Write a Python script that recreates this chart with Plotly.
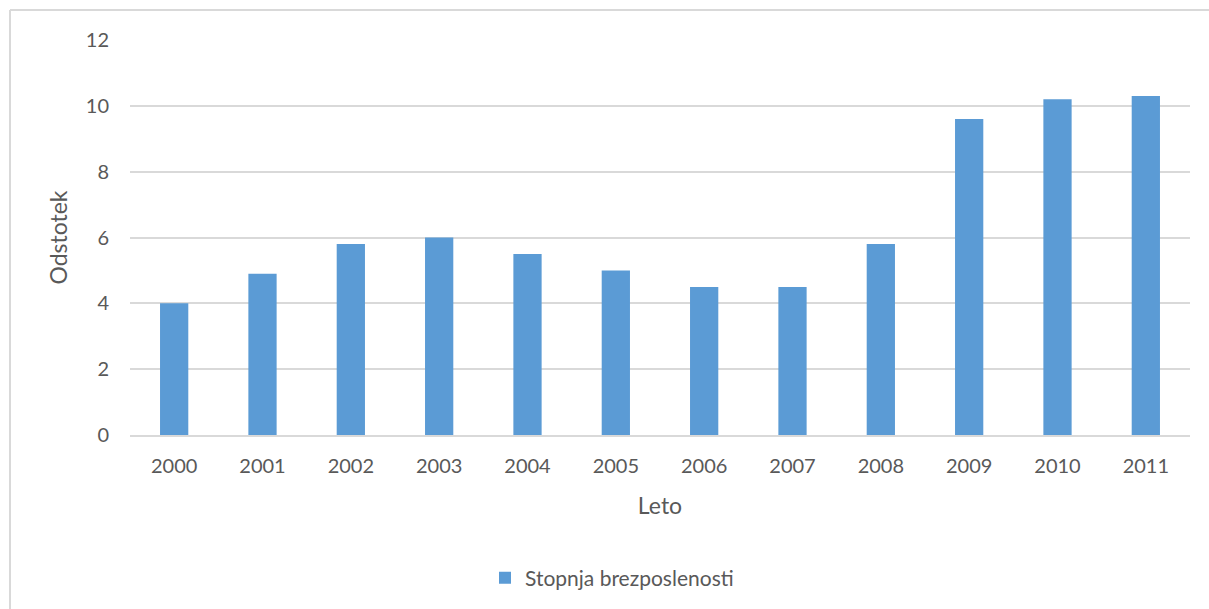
import plotly.graph_objects as go

# Unemployment rate by year
years = ["2000", "2001", "2002", "2003", "2004", "2005",
         "2006", "2007", "2008", "2009", "2010", "2011"]
rates = [4.0, 4.9, 5.8, 6.0, 5.5, 5.0, 4.5, 4.5, 5.8, 9.6, 10.2, 10.3]
y_ticks = [0, 2, 4, 6, 8, 10, 12]

series_name = "Stopnja brezposlenosti"
x_title = "Leto"
y_title = "Odstotek"

text_color = "#595959"
grid_color = "#D9D9D9"
bar_color = "#5B9BD5"
font_family = "Lato, 'Open Sans', sans-serif"

fig = go.Figure(
    go.Bar(
        x=years,
        y=rates,
        name=series_name,
        marker=dict(color=bar_color, line=dict(width=0)),
        showlegend=True,
    )
)

W, H = 1209, 609
L, R, T, B = 130, 19, 40, 173
pw, ph = W - L - R, H - T - B

fig.update_layout(
    width=W,
    height=H,
    margin=dict(l=L, r=R, t=T, b=B),
    paper_bgcolor="white",
    plot_bgcolor="white",
    bargap=0.68,
    font=dict(family=font_family, size=20, color=text_color),
    showlegend=True,
    legend=dict(
        orientation="h",
        x=(612 - L) / pw,
        xanchor="center",
        y=-(578 - (T + ph)) / ph,
        yanchor="middle",
        font=dict(size=21, color=text_color),
        itemwidth=30,
    ),
    xaxis=dict(
        type="category",
        showgrid=False,
        showline=True,
        linecolor=grid_color,
        linewidth=2,
        ticks="",
        ticklabelstandoff=12,
        tickfont=dict(size=20, color=text_color),
        title=dict(text=x_title, font=dict(size=23, color=text_color), standoff=22),
    ),
    yaxis=dict(
        range=[0, 12],
        tickvals=y_ticks,
        showgrid=True,
        gridcolor=grid_color,
        gridwidth=1.5,
        zeroline=False,
        showline=False,
        ticks="",
        ticklabelstandoff=20,
        tickfont=dict(size=20, color=text_color),
        title=dict(text=y_title, font=dict(size=23, color=text_color), standoff=11),
    ),
    shapes=[
        # chart frame: left and top edges
        dict(type="line", xref="paper", yref="paper",
             x0=(10 - L) / pw, x1=(10 - L) / pw,
             y0=(T + ph - 10) / ph, y1=-(H + 5 - (T + ph)) / ph,
             line=dict(color=grid_color, width=2)),
        dict(type="line", xref="paper", yref="paper",
             x0=(10 - L) / pw, x1=(W + 5 - L) / pw,
             y0=(T + ph - 10) / ph, y1=(T + ph - 10) / ph,
             line=dict(color=grid_color, width=2)),
    ],
)

fig.write_html("out.html")
